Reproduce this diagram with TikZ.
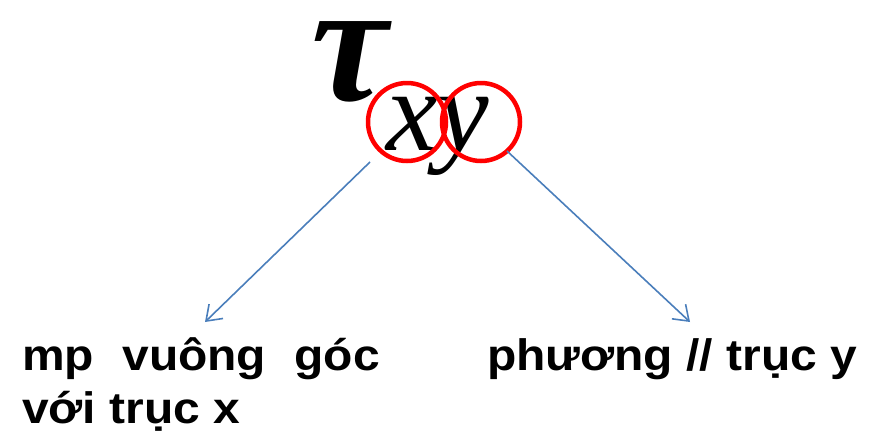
\documentclass[tikz,border=0pt]{standalone}
\usepackage{fontspec}
\setmainfont{Liberation Sans}
\newfontfamily\symbfont{Liberation Serif}
\usetikzlibrary{arrows.meta,positioning}
\definecolor{ArrowBlue}{HTML}{4A7EBB}
\definecolor{MarkRed}{HTML}{FF0000}
\newcommand{\widetext}[1]{\scalebox{1.09}[1]{#1}}

\begin{document}
\begin{tikzpicture}[
  x=1pt,y=-1pt,
  mark circle/.style={circle,draw=MarkRed,line width=4.5pt,minimum size=78pt,inner sep=0pt},
  arrow/.style={-{Straight Barb[length=14pt,width=20pt]},line width=1.6pt,color=ArrowBlue},
  label text/.style={inner sep=0pt,font=\fontsize{44}{51}\selectfont\bfseries}
]
\useasboundingbox (0,0) rectangle (875,445);
% shear stress symbol
\node[inner sep=0pt,anchor=base,font=\fontsize{172}{172}\symbfont\bfseries\itshape] (tau) at (350,100) {τ};
\node[inner sep=0pt,anchor=base west,font=\fontsize{116}{116}\symbfont\itshape] (idx) at (386,150) {xy};
\node[mark circle] (cx) at (407,122) {};
\node[mark circle] (cy) at (481,122) {};
% arrow ends
\coordinate (xstart) at (370,162);
\coordinate (xend) at (205,322);
\coordinate (ystart) at (507,151);
\coordinate (yend) at (690,322);
\draw[arrow] (xstart) -- (xend);
\draw[arrow] (ystart) -- (yend);
% explanations
\node[label text,anchor=base west] (plane) at (22,370) {\widetext{\parbox[t]{328pt}{mp\hfill vuông\hfill góc\\[2pt]với trục x}}};
\node[label text,anchor=base west] (dir) at (487,370) {\widetext{phương // trục y}};
\end{tikzpicture}
\end{document}
